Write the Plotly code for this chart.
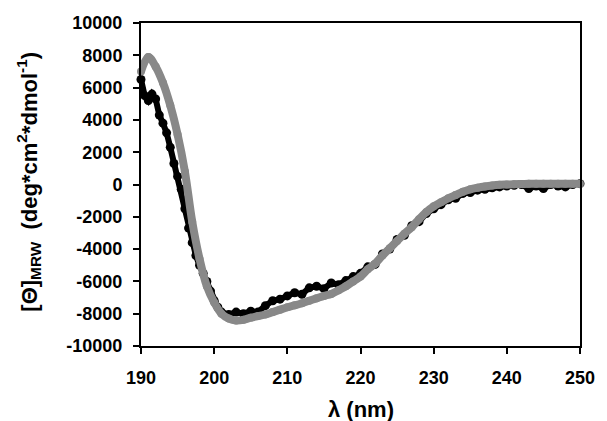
import plotly.graph_objects as go

# Wavelength (nm) and mean residue ellipticity values
gray_x = list(range(190, 251))
gray_y = [7000, 7900, 7300, 6300, 4900, 3100, 800, -2300, -4600, -6300,
          -7300, -8000, -8300, -8420, -8380, -8250, -8150, -8050, -7900, -7750,
          -7600, -7480, -7350, -7200, -7050, -6900, -6780, -6550, -6300, -6000,
          -5700, -5250, -4900, -4400, -3950, -3500, -3050, -2640, -2150, -1700,
          -1350, -1100, -850, -650, -450, -300, -200, -120, -60, -20,
          0, 20, 30, 40, 40, 40, 40, 40, 40, 40, 40]

black_x = [190, 190.5, 191, 191.5, 192, 192.5, 193, 193.5, 194, 194.5,
           195, 195.5, 196, 196.5, 197, 197.5, 198, 198.5, 199, 199.5,
           200, 200.5, 201, 202, 203, 204, 205, 206, 207, 208,
           209, 210, 211, 212, 213, 214, 215, 216, 217, 218,
           219, 220, 221, 222, 223, 224, 225, 226, 227, 228,
           229, 230, 231, 232, 233, 234, 235, 236, 237, 238,
           239, 240, 241, 242, 243, 244, 245, 246, 247, 248, 249, 250]
black_y = [6500, 5500, 5200, 5600, 5300, 4300, 3800, 3200, 2300, 1300,
           500, -300, -1500, -2700, -3600, -4400, -5000, -5500, -6000, -6600,
           -7200, -7600, -7900, -8050, -7900, -8000, -7850, -7900, -7500, -7200,
           -7100, -6900, -6700, -6800, -6400, -6300, -6450, -6100, -6200, -5950,
           -5700, -5500, -5100, -4950, -4300, -4000, -3400, -3150, -2550, -2300,
           -1800, -1500, -1250, -950, -850, -550, -500, -350, -300, -200,
           -150, -100, -50, 0, -250, -100, -250, 0, -100, -150, 0, 50]

x_ticks = [190, 200, 210, 220, 230, 240, 250]
y_ticks = [-10000, -8000, -6000, -4000, -2000, 0, 2000, 4000, 6000, 8000, 10000]

FONT = "Liberation Sans, Arial, sans-serif"

fig = go.Figure()
fig.add_trace(go.Scatter(
    x=black_x, y=black_y, mode="lines+markers",
    line=dict(color="black", width=6),
    marker=dict(color="black", size=9),
    showlegend=False, cliponaxis=False))
fig.add_trace(go.Scatter(
    x=gray_x, y=gray_y, mode="lines+markers",
    line=dict(color="#888888", width=8, shape="spline"),
    marker=dict(color="#888888", size=8),
    showlegend=False, cliponaxis=False))

axis_common = dict(
    showline=True, linecolor="black", linewidth=2, mirror=True,
    ticks="outside", ticklen=6, tickwidth=2, tickcolor="black",
    showgrid=False, zeroline=False,
    tickfont=dict(family=FONT, size=18, color="black", weight="bold"),
)

fig.update_layout(
    width=607, height=421,
    margin=dict(l=141, r=19, t=23, b=75),
    paper_bgcolor="white", plot_bgcolor="white",
    xaxis=dict(range=[190, 250], tickvals=x_ticks,
               ticktext=[str(v) for v in x_ticks],
               ticklabelstandoff=8, **axis_common),
    yaxis=dict(range=[-10000, 10000], tickvals=y_ticks,
               ticktext=[str(v) for v in y_ticks],
               ticklabelstandoff=7, **axis_common),
    annotations=[
        dict(text="λ (nm)", xref="paper", yref="paper",
             x=0.501, y=-0.198,
             xanchor="center", yanchor="middle", showarrow=False,
             font=dict(family=FONT, size=22, color="black", weight="bold")),
        dict(text="[Θ]<sub>MRW</sub>  (deg*cm<sup>2</sup>*dmol<sup>-1</sup>)",
             xref="paper", yref="paper",
             x=-0.255, y=0.509, textangle=-90,
             xanchor="center", yanchor="middle", showarrow=False,
             font=dict(family=FONT, size=22, color="black", weight="bold")),
    ],
)

fig.write_html("out.html", config={"displayModeBar": False},
               post_script="document.body.style.margin='0';document.body.style.overflow='hidden';")
